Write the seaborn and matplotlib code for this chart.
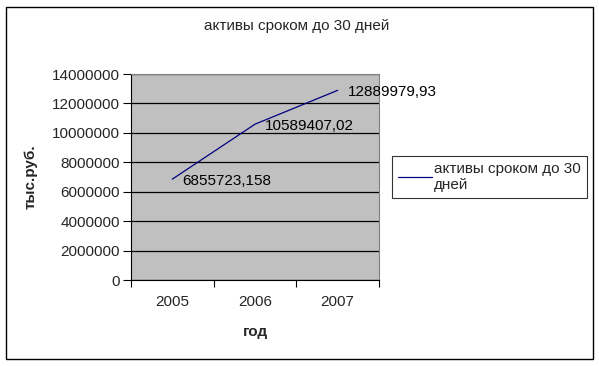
import pandas as pd
import matplotlib.pyplot as plt
import seaborn as sns
from matplotlib.patches import Rectangle

years = ["2005", "2006", "2007"]
values = [6855723.158, 10589407.02, 12889979.93]
value_labels = ["6855723,158", "10589407,02", "12889979,93"]
yticks = [0, 2000000, 4000000, 6000000, 8000000, 10000000, 12000000, 14000000]
series_name = "активы сроком до 30 дней"

df = pd.DataFrame({"year": range(len(years)), "value": values})

sns.set_style("white")
plt.rcParams["font.family"] = ["Liberation Sans", "DejaVu Sans"]

fig = plt.figure(figsize=(5.99, 3.66), dpi=100)
fig.patch.set_facecolor("white")
ax = fig.add_axes([131/599, 1-280/366, (379-131)/599, (280-74)/366])
ax.set_facecolor("#C0C0C0")

sns.lineplot(data=df, x="year", y="value", color="#000080", linewidth=0.9, ax=ax, label=series_name)

for i, (v, lab) in enumerate(zip(values, value_labels)):
    ax.annotate(lab, (i, v), xytext=(7, -1), textcoords="offset points", fontsize=11,
                va="center", ha="left", color="black", annotation_clip=False)

ax.set_xlim(-0.5, 2.5)
ax.set_ylim(0, 14000000)
ax.set_yticks(yticks)
ax.set_yticklabels([str(t) for t in yticks], fontsize=11)
ax.yaxis.grid(True, color="black", linewidth=0.9)
ax.set_axisbelow(True)
ax.set_xticks([-0.5, 0.5, 1.5, 2.5])
ax.set_xticklabels([])
ax.set_xticks(range(len(years)), minor=True)
ax.set_xticklabels(years, minor=True, fontsize=11)
ax.tick_params(axis="x", which="major", length=5, direction="out", bottom=True, color="black")
ax.tick_params(axis="x", which="minor", length=0, pad=11)
ax.tick_params(axis="y", length=6, direction="out", left=True, color="black", pad=2)
for side in ["top", "right"]:
    ax.spines[side].set_color("#808080")
    ax.spines[side].set_linewidth(0.8)
for side in ["left", "bottom"]:
    ax.spines[side].set_color("black")
    ax.spines[side].set_linewidth(0.8)

ax.set_xlabel("год", fontsize=11, fontweight="bold", labelpad=11)
ax.set_ylabel("тыс.руб.", fontsize=11, fontweight="bold", labelpad=10)
fig.text(297/599, 1-26/366, series_name, ha="center", va="center", fontsize=11)

leg = ax.legend(loc="center left", bbox_to_anchor=(392/599, 1-177/366), bbox_transform=fig.transFigure,
                frameon=True, fancybox=False, fontsize=11, handlelength=2.2, handletextpad=0.15,
                borderpad=0.4, borderaxespad=0)
leg.get_frame().set_edgecolor("black")
leg.get_frame().set_linewidth(0.8)
leg.get_texts()[0].set_text("активы сроком до 30\nдней")

fig.patches.append(Rectangle((6/599, 1-359/366), 587/599, 352/366, transform=fig.transFigure,
                             fill=False, edgecolor="black", linewidth=1))

fig.savefig("out.png", dpi=100)
